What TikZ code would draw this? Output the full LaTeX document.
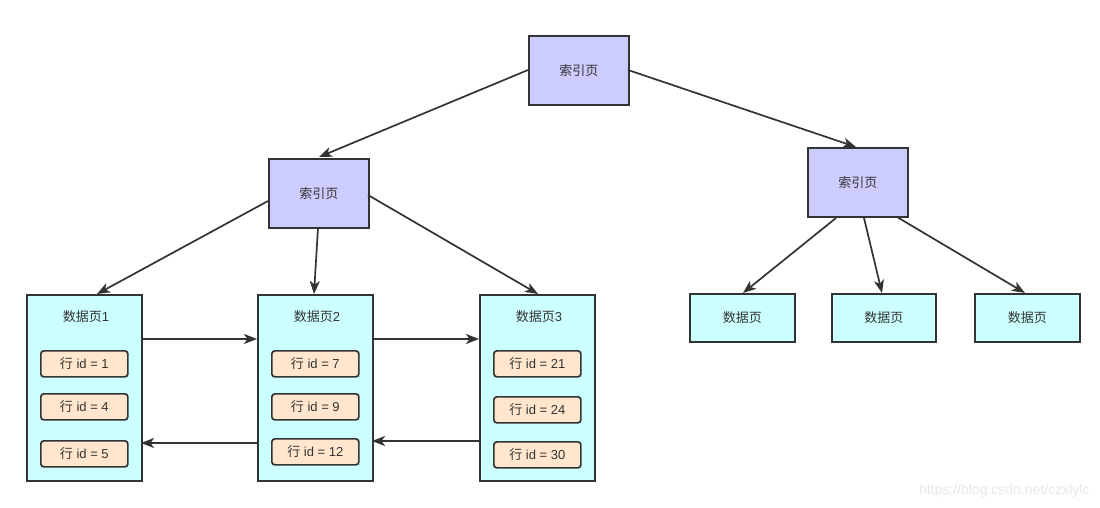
\documentclass[tikz,border=0pt]{standalone}
\usepackage{fontspec}
\setmainfont{Liberation Sans}
\newfontfamily\cjk{Noto Sans CJK SC}
\usetikzlibrary{arrows.meta}
\definecolor{idxfill}{HTML}{CCCCFF}
\definecolor{datafill}{HTML}{CCFFFF}
\definecolor{rowfill}{HTML}{FFE6CC}
\definecolor{edge}{HTML}{333333}
\definecolor{wm}{HTML}{E8E8E8}
\newcommand{\rowtxt}[1]{{\cjk 行}\ id = #1}
\begin{document}
\begin{tikzpicture}[x=1pt,y=-1pt,
  every node/.style={font=\fontsize{13}{15}\selectfont, text=edge},
  box/.style={draw=edge, line width=1.7pt, inner sep=0pt, anchor=north west},
  idx/.style={box, fill=idxfill},
  datapg/.style={box, fill=datafill},
  rowbox/.style={draw=edge, line width=1.7pt, fill=rowfill, rounded corners=3pt, inner sep=0pt, anchor=north west},
  link/.style={draw=edge, line width=1.7pt, -{Stealth[length=13pt,width=10pt,inset=3.5pt]}}
]
\useasboundingbox (0,0) rectangle (1100,508);
\fill[white] (0,0) rectangle (1100,508);
% index pages
\node[idx, minimum width=100pt, minimum height=69pt] (top) at (528,35) {\cjk 索引页};
\node[idx, minimum width=100pt, minimum height=69pt] (li) at (268,158) {\cjk 索引页};
\node[idx, minimum width=100pt, minimum height=69pt] (ri) at (807,147) {\cjk 索引页};
% data pages (left)
\node[datapg, minimum width=115pt, minimum height=186pt] (p1) at (26,294) {};
\node[datapg, minimum width=115pt, minimum height=186pt] (p2) at (257,294) {};
\node[datapg, minimum width=115pt, minimum height=186pt] (p3) at (479,294) {};
\node (t1) at (86,317) {{\cjk 数据页}1};
\node (t2) at (317,317) {{\cjk 数据页}2};
\node (t3) at (539,317) {{\cjk 数据页}3};
% rows
\node[rowbox, minimum width=87pt, minimum height=26pt] (r11) at (40,350) {\rowtxt{1}};
\node[rowbox, minimum width=87pt, minimum height=26pt] (r12) at (40,393) {\rowtxt{4}};
\node[rowbox, minimum width=87pt, minimum height=26pt] (r13) at (40,440) {\rowtxt{5}};
\node[rowbox, minimum width=87pt, minimum height=26pt] (r21) at (271,350) {\rowtxt{7}};
\node[rowbox, minimum width=87pt, minimum height=26pt] (r22) at (271,393) {\rowtxt{9}};
\node[rowbox, minimum width=87pt, minimum height=26pt] (r23) at (271,438) {\rowtxt{12}};
\node[rowbox, minimum width=87pt, minimum height=26pt] (r31) at (493,350) {\rowtxt{21}};
\node[rowbox, minimum width=87pt, minimum height=26pt] (r32) at (493,396) {\rowtxt{24}};
\node[rowbox, minimum width=87pt, minimum height=26pt] (r33) at (493,441) {\rowtxt{30}};
% data pages (right)
\node[datapg, minimum width=105pt, minimum height=48pt] (d1) at (689,293) {\cjk 数据页};
\node[datapg, minimum width=104pt, minimum height=48pt] (d2) at (831,293) {\cjk 数据页};
\node[datapg, minimum width=105pt, minimum height=48pt] (d3) at (974,293) {\cjk 数据页};
% coordinates for connector ends
\coordinate (topL) at (528,70);
\coordinate (topR) at (628,70);
\coordinate (liT) at (319,157);
\coordinate (riT) at (856,147);
\coordinate (liA) at (268,201);
\coordinate (liB) at (318,228);
\coordinate (liC) at (368,195);
\coordinate (p1T) at (97,294);
\coordinate (p2T) at (314,294);
\coordinate (p3T) at (538,294);
\coordinate (riA) at (836,218);
\coordinate (riB) at (864,218);
\coordinate (riC) at (897,217);
\coordinate (d1T) at (743,293);
\coordinate (d2T) at (882,293);
\coordinate (d3T) at (1025,293);
\coordinate (p1Ra) at (141,339);
\coordinate (p2La) at (257,339);
\coordinate (p2Ra) at (372,339);
\coordinate (p3La) at (479,339);
\coordinate (p3Lb) at (479,441);
\coordinate (p2Rb) at (372,441);
\coordinate (p2Lb) at (257,443);
\coordinate (p1Rb) at (141,443);
% connectors
\draw[link] (topL) -- (liT);
\draw[link] (topR) -- (riT);
\draw[link] (liA) -- (p1T);
\draw[link] (liB) -- (p2T);
\draw[link] (liC) -- (p3T);
\draw[link] (riA) -- (d1T);
\draw[link] (riB) -- (d2T);
\draw[link] (riC) -- (d3T);
\draw[link] (p1Ra) -- (p2La);
\draw[link] (p2Ra) -- (p3La);
\draw[link] (p3Lb) -- (p2Rb);
\draw[link] (p2Lb) -- (p1Rb);
% watermark
\node[text=wm, font=\fontsize{14}{16}\selectfont, anchor=east] (wmk) at (1093,491) {https://blog.csdn.net/czxlylc};
\end{tikzpicture}
\end{document}
